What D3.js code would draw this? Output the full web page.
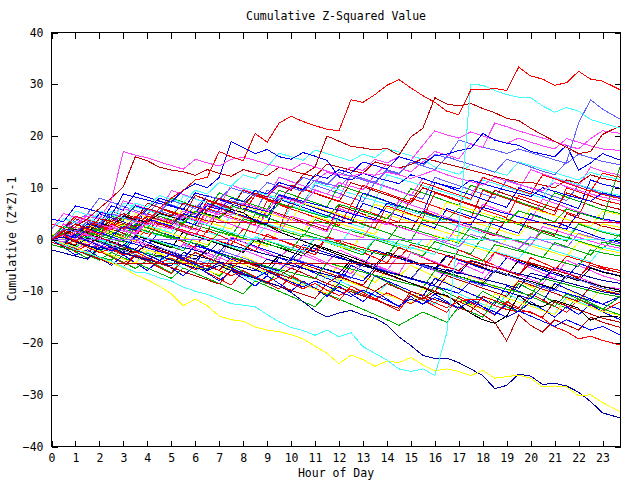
<!DOCTYPE html>
<html><head><meta charset="utf-8">
<script src="https://cdn.jsdelivr.net/npm/d3@7"></script>
<style>
body{margin:0;background:#fff}
svg text{font-family:"DejaVu Sans Mono","Liberation Mono",monospace;font-size:11.5px;fill:#000}
</style>
</head><body>
<svg id="chart" width="640" height="480"></svg>
<script>
// ---------- DATA ----------
const hours = [...d3.range(0, 23.5, 0.5), 23.75];
const xTicks = d3.range(0, 24, 1);
const yTicks = [-40, -30, -20, -10, 0, 10, 20, 30, 40];
const titleText = "Cumulative Z-Squared Value";
const xLabel = "Hour of Day";
const yLabel = "Cumulative (Z*Z)-1";

const d01 = [0,-0.8,-1.6,0.5,-0.3,-1.1,-1.9,1, 0.2,-0.6,-1.4,-2.2,0.8,0,-0.8,-1.6, -2.4,0.5,-0.3,-1.1,-1.9,-2.7,0.2,-0.6, -1.4,-2.2,-3,0,-0.8,-1.6,-2.4,-3.2, -0.4,-1.2,-2,-2.8,0.5,-0.3,-1.1,-1.9, -2.7,-3.5,-0.6,-1.4,-2.2,-3,-0.5,-1.3];
const d02 = [0,1.2,0.5,-0.3,2,1.2,0.4,-0.4, -1.2,1.5,0.7,-0.1,-0.9,-1.7,-2.5,0.3, -0.5,-1.3,-2.1,-2.9,-3.7,-1,-1.8,-2.6, -3.4,-4.2,-5,-2,-2.8,-3.6,-4.4,-5.2, -6,-3.2,-4,-4.8,-5.6,-6.4,-3.5,-4.3, -5.1,-5.9,-6.7,-7.5,-4.6,-5.4,-6.2,-7];
const d03 = [0,2.5,1.8,1,4,3.2,2.4,1.6, 5,4.2,3.4,2.6,1.8,6,5.2,4.4, 3.6,2.8,7.5,6.7,5.9,5.1,4.3,3.5, 2.7,6.5,5.7,4.9,4.1,3.3,8,7.2, 6.4,5.6,4.8,4,9.5,8.7,7.9,7.1, 6.3,5.5,4.7,10,9.2,8.4,7.6,6.8];
const d04 = [0,-1,-2,-0.5,-1.5,-2.5,1,0, -1,-2,-3,-1,-2,-3,-4,0.5, -0.5,-1.5,-2.5,-3.5,-1.5,-2.5,-3.5,-4.5, -2,-3,-4,-5,-6,-3,-4,-5, -6,-7,-4.5,-5.5,-6.5,-2.5,-3.5,-4.5, -5.5,-6.5,-7.5,-4,-5,-6,-7,-8];
const d05 = [0,-0.7,1.5,0.8,0.1,-0.6,2.8,2.1, 1.4,0.7,3.5,2.8,2.1,1.4,0.7,5, 4.3,3.6,2.9,2.2,6.5,5.8,5.1,4.4, 3.7,3,2.3,7.5,6.8,6.1,5.4,4.7, 4,3.3,2.6,1.9,1.2,4.5,3.8,3.1, 2.4,1.7,1,0.3,3,2.3,1.6,0.9];
const d06 = [0,-1.1,-0.2,-1.3,-2.4,-1,-2.1,-3.2, -1.5,-2.6,-3.7,-4.8,-2.5,-3.6,-4.7,-5.8, -3.2,-4.3,-5.4,-6.5,-4,-5.1,-6.2,-7.3, -5,-6.1,-7.2,-8.3,-6,-7.1,-5,-6.1, -7.2,-8.3,-9.4,-7,-8.1,-9.2,-10.3,-8, -9.1,-10.2,-8.5,-9.6,-10.7,-11.8,-9.5,-10.6];
const d07 = [0,1.5,0.7,-0.1,2.8,2,1.2,0.4, 3.8,3,2.2,1.4,0.6,4.5,3.7,2.9, 2.1,1.3,5.8,5,4.2,3.4,2.6,1.8, 6.5,5.7,4.9,4.1,3.3,2.5,1.7,5.5, 4.7,3.9,3.1,2.3,1.5,0.7,4,3.2, 2.4,1.6,0.8,5,4.2,3.4,2.6,1.8];
const d08 = [0,-1.2,-2.4,-3.6,-2,-3.2,-4.4,-5.6, -4,-5.2,-6.4,-3.5,-4.7,-5.9,-7.1,-5, -6.2,-7.4,-8.6,-6,-7.2,-8.4,-9.6,-10.8, -8.5,-9.7,-10.9,-7,-8.2,-9.4,-10.6,-11.8, -9,-10.2,-11.4,-12.6,-10,-11.2,-12.4,-8.5, -9.7,-10.9,-12.1,-13.3,-11,-12.2,-13.4,-14.6];
const d09 = [0,0.5,-0.3,1.2,0.4,-0.4,-1.2,0.8, 0,-0.8,-1.6,1.5,0.7,-0.1,-0.9,-1.7, -2.5,0,-0.8,-1.6,-2.4,-3.2,-1,-1.8, -2.6,-3.4,-4.2,-5,-2.5,-3.3,-4.1,-4.9, -5.7,-3,-3.8,-4.6,-5.4,-6.2,-7,-4, -4.8,-5.6,-6.4,-7.2,-8,-5.5,-6.3,-7.1];
const d10 = [0,2,3.5,5,8,7.2,6.4,5.6, 4.8,7.5,6.7,5.9,5.1,8.5,7.7,6.9, 6.1,5.3,9.5,8.7,7.9,7.1,10.5,9.7, 8.9,8.1,7.3,11,10.2,9.4,8.6,7.8, 12,11.2,10.4,9.6,8.8,8,11.5,10.7, 9.9,9.1,8.3,7.5,10.5,9.7,8.9,8.1];
const d11 = [0,-0.6,-1.2,0.5,-0.1,-0.7,-1.3,-1.9, 0.3,-0.3,-0.9,-1.5,-2.1,-2.7,-0.5,-1.1, -1.7,-2.3,-2.9,-3.5,-4.1,-1.8,-2.4,-3, -3.6,-4.2,-4.8,-5.4,-3,-3.6,-4.2,-4.8, -5.4,-6,-6.6,-4.2,-4.8,-5.4,-6,-6.6, -7.2,-7.8,-5.5,-6.1,-6.7,-7.3,-7.9,-8.5];
const d12 = [0,0.8,1.6,0.6,2.5,1.5,0.5,-0.5, 2.5,1.5,0.5,-0.5,-1.5,1.8,0.8,-0.2, -1.2,-2.2,1,0,-1,-2,-3,0.5, -0.5,-1.5,-2.5,-3.5,-4.5,-1.5,-2.5,-3.5, -4.5,-5.5,-2,-3,-4,-5,-6,-7, -3.5,-4.5,-5.5,-6.5,-7.5,-4.5,-5.5,-6.5];
const d13 = [0,1.5,3,2.2,1.4,4.5,3.7,6.5, 5.7,4.9,8,7.2,6.4,5.6,9,8.2, 7.4,6.6,5.8,9.5,8.7,7.9,7.1,6.3, 10.5,9.7,8.9,8.1,7.3,6.5,9.8,9, 8.2,7.4,6.6,10.5,9.7,8.9,8.1,7.3, 6.5,5.7,9,8.2,7.4,6.6,5.8,5];
const d14 = [0,-1,1.5,0.5,-0.5,-1.5,-2.5,0.5, -0.5,-1.5,-2.5,-3.5,-4.5,-1.8,-2.8,-3.8, -4.8,-5.8,-6.8,-3.5,-4.5,-5.5,-6.5,-7.5, -8.5,-5,-6,-7,-8,-9,-10,-11, -7.5,-8.5,-9.5,-10.5,-11.5,-12.5,-9,-10, -11,-12,-8.5,-9.5,-10.5,-11.5,-12.5,-13.5];
const d15 = [0,3,2.2,5,4.2,3.4,7.5,6.7, 5.9,5.1,9.5,8.7,7.9,7.1,6.3,10.5, 9.7,8.9,8.1,12,11.2,10.4,9.6,8.8, 8,12.5,11.7,10.9,10.1,9.3,8.5,11.8, 11,10.2,9.4,8.6,12,11.2,10.4,9.6, 13.5,12.7,11.9,11.1,10.3,14,13.2,12.4];
const d16 = [0,-1,-2,-3,-1.5,-2.5,-3.5,-4.5, -2.5,-3.5,-4.5,-5.5,-6.5,-4,-5,-6, -7,-8,-5.5,-6.5,-7.5,-8.5,-9.5,-7, -8,-9,-10,-11,-8.5,-9.5,-10.5,-11.5, -12.5,-9.5,-10.5,-11.5,-12.5,-13.5,-10.5,-11.5, -12.5,-13.5,-14.5,-11,-12,-13,-14,-12];
const d17 = [0,1.5,0.8,2.8,2.1,1.4,4,3.3, 2.6,1.9,5.5,4.8,4.1,3.4,2.7,2, 5,4.3,3.6,2.9,2.2,1.5,4.5,3.8, 3.1,2.4,1.7,1,4.8,4.1,3.4,2.7, 2,1.3,0.6,3.5,2.8,2.1,1.4,0.7, 3.8,3.1,2.4,1.7,1,0.3,3,2.3];
const d18 = [0,-0.8,-1.6,-2.4,-1,-1.8,-2.6,-3.4, -4.2,-2,-2.8,-3.6,-4.4,-5.2,-6,-3.5, -4.3,-5.1,-5.9,-6.7,-7.5,-4.8,-5.6,-6.4, -7.2,-8,-8.8,-6,-6.8,-7.6,-8.4,-9.2, -10,-7,-7.8,-8.6,-9.4,-10.2,-11,-8, -8.8,-9.6,-10.4,-11.2,-12,-9,-9.8,-10.6];
const d19 = [0,0.5,2.5,1.8,1.1,0.4,3,2.3, 1.6,0.9,0.2,3.5,2.8,2.1,1.4,0.7, 4,3.3,2.6,1.9,1.2,0.5,3.8,3.1, 2.4,1.7,1,0.3,-0.4,2.8,2.1,1.4, 0.7,0,-0.7,2.5,1.8,1.1,0.4,-0.3, -1,1.8,1.1,0.4,-0.3,-1,-1.7,1];
const d20 = [0,-0.5,-1,1.5,0.8,3.5,2.7,1.9, 1.1,4.5,3.7,2.9,2.1,1.3,6,5.2, 4.4,3.6,2.8,2,7.8,7,6.2,5.4, 4.6,3.8,3,2.2,6.5,5.7,4.9,4.1, 9,8.2,7.4,6.6,5.8,5,4.2,8.5, 7.7,6.9,6.1,5.3,4.5,9.5,8.7,7.9];
const d21 = [0,2,4.5,3.7,2.9,6.5,5.7,9, 8.2,7.4,6.6,5.8,5,8.5,7.7,6.9, 6.1,5.3,4.5,7.8,7,6.2,5.4,4.6, 3.8,3,7,6.2,5.4,4.6,3.8,3, 2.2,6,5.2,4.4,3.6,2.8,2,1.2, 5,4.2,3.4,2.6,1.8,1,0.2,-0.6];
const d22 = [0,-0.9,0.8,-0.1,-1,-1.9,0.5,-0.4, -1.3,-2.2,-3.1,-0.8,-1.7,-2.6,-3.5,-4.4, -2,-2.9,-3.8,-4.7,-5.6,-3,-3.9,-4.8, -5.7,-6.6,-4,-4.9,-5.8,-6.7,-2.5,-3.4, -4.3,-5.2,-6.1,-7,-7.9,-5,-5.9,-6.8, -7.7,-8.6,-5.5,-6.4,-7.3,-8.2,-9.1,-9.5];
const d23 = [0,2,5.5,4.8,4.1,3.4,7,6.3, 5.6,4.9,4.2,8.5,7.8,7.1,6.4,5.7, 10,9.3,8.6,7.9,7.2,6.5,11,10.3, 9.6,8.9,8.2,7.5,12.5,11.8,11.1,10.4, 9.7,9,8.3,7.6,11.5,10.8,10.1,9.4, 8.7,8,12,11.3,10.6,9.9,9.2,8.5];
const d24 = [0,0.8,0.1,-0.6,1.8,1.1,0.4,-0.3, 2.5,1.8,1.1,0.4,-0.3,-1,1.5,0.8, 0.1,-0.6,-1.3,2.2,1.5,0.8,0.1,-0.6, -1.3,-2,1.2,0.5,-0.2,-0.9,-1.6,-2.3, 0.8,0.1,-0.6,-1.3,-2,-2.7,0.2,-0.5, -1.2,-1.9,-2.6,-3.3,-0.5,-1.2,-1.9,-2.6];
const d25 = [0,-0.5,-1.2,0.2,-0.5,-1.2,-1.9,-2.6, -1,-1.7,-2.4,-3.1,-3.8,-2,-2.7,-3.4, -4.1,-4.8,-5.5,-3,-3.7,-4.4,-5.1,-5.8, -6.5,-4,-4.7,-5.4,-6.1,-6.8,-7.5,-5, -5.7,-6.4,-7.1,-7.8,-8.5,-6,-6.7,-7.4, -8.1,-8.8,-9.5,-7,-7.7,-8.4,-9.1,-9.8];
const d26 = [0,-0.8,-1.6,-2.4,-0.5,-1.3,-2.1,-2.9, -3.7,-1.5,-2.3,-3.1,-3.9,-4.7,-2,-2.8, -3.6,-4.4,-5.2,-6,-3.5,-4.3,-5.1,-5.9, -6.7,-7.5,-4.5,-5.3,-6.1,-6.9,-7.7,-5, -5.8,-6.6,-7.4,-8.2,-9,-6,-6.8,-7.6, -8.4,-9.2,-10,-7,-7.8,-8.6,-9.4,-10.2];
const d27 = [0,1.2,0.4,2.5,1.7,0.9,0.1,3, 2.2,1.4,0.6,-0.2,3.5,2.7,1.9,1.1, 0.3,5,4.2,3.4,2.6,1.8,1,0.2, 4.5,3.7,2.9,2.1,1.3,0.5,-0.3,3.8, 3,2.2,1.4,0.6,-0.2,4.5,3.7,2.9, 2.1,1.3,0.5,-0.3,3,2.2,1.4,0.6];
const d28 = [0,-1.2,-2.4,-1,-2.2,-3.4,-4.6,-3, -4.2,-5.4,-6.6,-4,-5.2,-6.4,-7.6,-8.8, -6,-7.2,-8.4,-9.6,-7,-8.2,-9.4,-10.6, -11.8,-9,-10.2,-11.4,-12.6,-13.8,-10.5,-11.7, -12.9,-14.1,-11,-12.2,-13.4,-14.6,-12,-13.2, -10.5,-11.7,-12.9,-14.1,-11.5,-12.7,-13.9,-12];
const d29 = [0,1,3,2.2,5,4.2,3.4,2.6, 6,5.2,4.4,3.6,2.8,7,6.2,5.4, 4.6,3.8,3,8.5,7.7,6.9,6.1,5.3, 4.5,3.7,9,8.2,7.4,6.6,5.8,5, 11,10.2,9.4,8.6,7.8,7,6.2,10, 9.2,8.4,7.6,6.8,6,11.5,10.7,9.9];
const d30 = [0,0.5,1.8,1,0.2,2.8,2,1.2, 4,3.2,2.4,1.6,0.8,4.5,3.7,2.9, 2.1,1.3,5.5,4.7,3.9,3.1,2.3,1.5, 6,5.2,4.4,3.6,2.8,7.5,6.7,5.9, 5.1,4.3,3.5,2.7,6.8,6,5.2,4.4, 3.6,7.8,7,6.2,5.4,4.6,3.8,3];
const d31 = [0,1,2.5,1.8,4,3.3,2.6,5, 4.3,3.6,2.9,6,5.3,4.6,3.9,3.2, 6.5,5.8,5.1,4.4,3.7,7,6.3,5.6, 4.9,4.2,3.5,6.8,6.1,5.4,4.7,4, 3.3,7.2,6.5,5.8,5.1,4.4,3.7,3, 6,5.3,4.6,3.9,3.2,2.5,5.5,4.8];
const d32 = [0,-1,-2,-3,-4,-2.5,-3.5,-4.5, -5.5,-6.5,-7.5,-5.5,-6.5,-7.5,-8.5,-9.5, -10.5,-8,-9,-10,-11,-12,-13,-10.5, -11.5,-12.5,-13.5,-14.5,-15.5,-16.6,-15.3,-14, -15,-16,-13,-14,-15,-12,-13,-14, -11,-12,-13,-10.5,-11.5,-12.5,-13.5,-11];
const d33 = [0,2,4,3.2,2.4,5.5,4.7,3.9, 7,6.2,5.4,4.6,8.5,7.7,6.9,6.1, 9.5,8.7,7.9,7.1,10.5,9.7,8.9,8.1, 7.3,11,10.2,9.4,8.6,7.8,7,10, 9.2,8.4,7.6,6.8,6,9.5,8.7,7.9, 7.1,6.3,5.5,9,8.2,7.4,6.6,5.8];
const d34 = [0,-1.5,-3,-2,-3.5,-5,-3,-4.5, -6,-4,-5.5,-7,-5,-6.5,-8,-6, -7.5,-9,-7,-8.5,-10,-8,-9.5,-11, -9,-10.5,-12,-10,-11.5,-13,-11,-12.5, -10.5,-12,-13.5,-11.5,-13,-14.5,-12.5,-14, -12,-13.5,-15,-13,-14.5,-12.5,-14,-15.5];
const d35 = [0,1.8,1,3.5,2.7,1.9,4.5,3.7, 2.9,6,5.2,4.4,3.6,7.5,6.7,5.9, 5.1,8.5,7.7,6.9,6.1,9.8,9,8.2, 7.4,6.6,10.5,9.7,8.9,8.1,7.3,11, 10.2,9.4,8.6,7.8,12,11.2,10.4,9.6, 8.8,12.5,11.7,10.9,10.1,9.3,12.8,12];
const d36 = [0,1,2.5,4,3.3,5.5,4.8,7, 6.3,8.5,7.8,7.1,9.5,8.8,11,10.3, 12.5,11.8,14,16.7,16,15.3,17.3,16.6, 15.9,15.2,16.5,15.8,17.6,16.9,16.2,15.5, 14,13.3,12.6,14.5,13.8,13.1,12.4,15, 14.3,13.6,12.9,12.2,11.5,13,12.3,11.6];
const d37 = [0,-0.5,1.5,0.8,3,2.3,1.6,4, 3.3,5.5,4.8,4.1,6.5,5.8,5.1,7.5, 6.8,9,8.3,7.6,10,9.3,11.5,10.8, 10.1,12.5,11.8,11.1,13.5,12.8,15,14.3, 16.5,15.8,19.2,18.5,17.8,17.3,16.6,17.5, 16.8,16.1,15.4,14.7,16.5,15.8,15.1,14.4];
const e01 = [1,0.3,-0.4,-1.1,-1.8,0.5,-0.2,-0.9, -1.6,-2.3,-3,-3.7,-1.2,-1.9,-2.6,-3.3, -4,-4.7,-5.4,-6.1,-3.8,-4.5,-5.2,-5.9, -6.6,-7.3,-8,-5.5,-6.2,-6.9,-7.6,-8.3, -9,-9.7,-10.4,-8,-8.7,-9.4,-10.1,-10.8, -11.5,-9,-9.7,-10.4,-11.1,-11.8,-12.5,-11];
const e02 = [3,2.3,4.5,3.8,3.1,2.4,1.7,1, 0.3,3.2,2.5,1.8,1.1,0.4,-0.3,-1, 2,1.3,0.6,-0.1,-0.8,-1.5,-2.2,0.5, -0.2,-0.9,-1.6,-2.3,-3,-3.7,-1,-1.7, -2.4,-3.1,-3.8,-4.5,-5.2,-2.5,-3.2,-3.9, -4.6,-5.3,-6,-3.2,-3.9,-4.6,-5.3,-6];
const e03 = [-1,-1.6,-2.2,-2.8,-3.4,-4,-1.5,-2.1, -2.7,-3.3,-3.9,-4.5,-5.1,-5.7,-2.8,-3.4, -4,-4.6,-5.2,-5.8,-6.4,-7,-7.6,-4.5, -5.1,-5.7,-6.3,-6.9,-7.5,-8.1,-8.7,-9.3, -6,-6.6,-7.2,-7.8,-8.4,-9,-9.6,-10.2, -10.8,-7.5,-8.1,-8.7,-9.3,-9.9,-10.5,-11.1];
const e04 = [2,4,3.3,2.6,5.5,4.8,4.1,3.4, 2.7,2,1.3,4.2,3.5,2.8,2.1,1.4, 0.7,0,3,2.3,1.6,0.9,0.2,-0.5, -1.2,2,1.3,0.6,-0.1,-0.8,-1.5,-2.2, -2.9,0.5,-0.2,-0.9,-1.6,-2.3,-3,-3.7, -0.8,-1.5,-2.2,-2.9,-3.6,-4.3,-1.5,-2.2];
const e05 = [1,0.2,-0.6,-1.4,-2.2,-3,-3.8,-4.6, -2,-2.8,-3.6,-4.4,-5.2,-6,-6.8,-4, -4.8,-5.6,-6.4,-7.2,-8,-8.8,-9.6,-10.4, -7.5,-8.3,-9.1,-9.9,-10.7,-11.5,-12.3,-9.5, -10.3,-11.1,-11.9,-12.7,-13.5,-10.5,-11.3,-12.1, -12.9,-13.7,-14.5,-11.5,-12.3,-13.1,-13.9,-14.7];
const e06 = [2,5,4.3,3.6,2.9,2.2,6,5.3, 4.6,3.9,3.2,2.5,1.8,5.5,4.8,4.1, 3.4,2.7,2,1.3,4.5,3.8,3.1,2.4, 1.7,1,0.3,3.8,3.1,2.4,1.7,1, 0.3,-0.4,3,2.3,1.6,0.9,0.2,-0.5, -1.2,2.5,1.8,1.1,0.4,-0.3,-1,-1.7];
const e07 = [-0.5,-1.3,-2.1,-2.9,-3.7,-4.5,-5.3,-3, -3.8,-4.6,-5.4,-6.2,-7,-7.8,-8.6,-5.8, -6.6,-7.4,-8.2,-9,-9.8,-10.6,-11.4,-8.5, -9.3,-10.1,-10.9,-11.7,-12.5,-13.3,-10,-10.8, -11.6,-12.4,-13.2,-14,-11,-11.8,-12.6,-13.4, -14.2,-15,-12,-12.8,-13.6,-14.4,-15.2,-16];
const e08 = [4,3.4,6.5,5.9,5.3,4.7,8.8,8.2, 7.6,7,6.4,5.8,9,8.4,7.8,7.2, 6.6,6,5.4,8.6,8,7.4,6.8,6.2, 5.6,5,4.4,3.8,7,6.4,5.8,5.2, 4.6,4,3.4,2.8,6.2,5.6,5,4.4, 3.8,3.2,2.6,2,5.2,4.6,4,3.4];
const e09 = [-2,-2.6,-3.2,-3.8,-1.5,-2.1,-2.7,-3.3, -3.9,-4.5,-5.1,-2.5,-3.1,-3.7,-4.3,-4.9, -5.5,-6.1,-3.8,-4.4,-5,-5.6,-6.2,-6.8, -7.4,-4.5,-5.1,-5.7,-6.3,-6.9,-7.5,-8.1, -8.7,-5.8,-6.4,-7,-7.6,-8.2,-8.8,-9.4, -6.5,-7.1,-7.7,-8.3,-8.9,-9.5,-10.1,-10.7];
const e10 = [0.5,2.5,1.9,1.3,0.7,0.1,-0.5,2.2, 1.6,1,0.4,-0.2,-0.8,-1.4,1.5,0.9, 0.3,-0.3,-0.9,-1.5,-2.1,1,0.4,-0.2, -0.8,-1.4,-2,-2.6,-3.2,0,-0.6,-1.2, -1.8,-2.4,-3,-3.6,-4.2,-1,-1.6,-2.2, -2.8,-3.4,-4,-4.6,-5.2,-2,-2.6,-3.2];
const flatCyan = [0,-0.7,-1.4,0.6,-0.1,-0.8,-1.5,1, 0.3,-0.4,-1.1,-1.8,0.8,0.1,-0.6,-1.3, -2,0.5,-0.2,-0.9,-1.6,-2.3,0.3,-0.4, -1.1,-1.8,-2.5,0.2,-0.5,-1.2,-1.9,0, 0,0,0,0,0,0,0,0, 0,0,0,0,0,0,0,0];
const flatLavender = [0,0,0,0,0,0,0,0, 0,0,0,0,0,0,0,0, 0,0,0,0,0,0,0,0, 0,0,0,0,0,0,0,0, 0,-0.7,-1.4,1,0.3,-0.4,-1.1,-1.8, 0.5,-0.2,-0.9,-1.6,1.2,0.5,-0.2,-0.9];
const flatHigh = [0,1.5,0.8,2.6,1.9,3.8,3.1,2.4, 4.5,3.8,3.1,5,4.3,3.6,3.3,3.3, 3.3,3.3,3.3,3.3,3.3,3.3,3.3,3.3, 3.3,3.3,3.3,3.3,3.3,3.3,3.3,3.3, 3.3,3.3,3.3,3.3,3.3,3.3,3.3,3.3, 3.3,3.3,3.3,3.3,3.3,3.3,3.3,3.3];
const flatLow = [0,-1,-1.8,-2.9,-3.8,-4.6,-4.6,-4.6, -4.6,-4.6,-4.6,-4.6,-4.6,-4.6,-4.6,-4.6, -4.6,-4.6,-4.6,-4.6,-4.6,-4.6,-4.6,-4.6, -4.6,-4.6,-4.6,-4.6,-4.6,-4.6,-4.6,-4.6, -4.6,-5.3,-6,-4,-4.7,-5.4,-6.1,-6.8, -4.5,-5.2,-5.9,-6.6,-7.3,-5,-5.7,-6.4];
const lowRed = [0,-1,-0.2,-1.5,-2.5,-1.8,-3,-2.3, -3.5,-4.5,-3.6,-4.8,-5.8,-4.9,-6,-7, -6,-7.2,-8.2,-7.3,-8.5,-9.5,-8.5,-9.8, -10.8,-9.6,-10.6,-11.6,-10.3,-11.4,-12.4,-11.2, -12.2,-13.2,-12,-11.5,-11.7,-12.8,-13.5,-14, -14,-15.2,-16.9,-17.8,-19.2,-18.7,-19.5,-20.4];
const lowDarkRed = [0,0.8,-0.2,-1.2,0.5,-0.5,-1.5,-2.5, -1,-2,-3,-4,-2.5,-3.5,-4.5,-5.5, -4,-5,-6,-7,-5.5,-6.5,-7.5,-8.5, -7,-8,-9,-10,-8.5,-9.5,-10.5,-11.5, -10,-11,-12,-13,-14.5,-16,-19.6,-14.6, -16.6,-17.9,-15.5,-16.5,-17.5,-15,-16,-17];
const lowBlue = [0,-0.5,0.8,-0.2,-1.2,-2.2,-1,-2, -3,-4,-2.8,-3.8,-4.8,-5.8,-4.5,-5.5, -6.5,-7.5,-6.2,-7.2,-8.2,-9.2,-8,-9, -10,-11,-9.8,-10.8,-11.8,-12.8,-11.5,-12.5, -11.2,-12.2,-13.2,-12,-13,-14,-15,-13.8, -14.8,-15.8,-16.8,-15.5,-16.5,-17.5,-16.8,-18.5];
const diagBlack = [0,1,2,1.4,3.2,2.6,4.5,3.9, 3.3,5,4.4,3.8,5.5,4.9,4.3,5.8, 5.2,3.5,2.8,1.5,0.6,-0.3,-1.2,-2.1, -3,-3.9,-4.8,-5.7,-6.6,-7.5,-8.4,-9.3, -10.4,-10.8,-12.5,-14.3,-15.5,-16.2,-14.8,-10.8, -12.5,-13,-11.7,-12.5,-13.3,-15.6,-14.8,-15];
const endGreen = [0,-0.8,1,0.3,2.2,1.5,0.8,3, 2.3,4.5,3.8,3.1,5.5,4.8,4.1,6.5, 5.8,5.1,4.4,7,6.3,5.6,4.9,4.2, 6.8,6.1,5.4,4.7,4,6.5,5.8,5.1, 4.4,3.7,6,5.3,4.6,3.9,3.2,5.5, 4.8,4.1,3.4,5.9,5.2,4.5,3.8,14.3];
const midDarkRed = [0,1,2.5,4,6,8,10.2,16, 15.2,14,13.4,13.1,12.4,13.5,12.8,12.2, 13.5,12.9,12.3,14,13.3,12.7,12.1,14.6, 14,13.4,12.8,15,14.4,13.8,14.5,15.7, 15.2,14.6,14,13.4,12.8,12.2,11.6,11.1, 11.1,10.5,10,11.5,10.9,12.5,11.8,11.2];
const upMagentaA = [0,-0.5,1.5,0.8,0.2,2.4,1.7,1, 3.3,2.6,2,4.5,3.8,3.1,5.5,4.8, 7,6.3,5.6,8.3,7.6,6.9,9.5,8.8, 11,10.3,9.6,12.5,14.5,13.8,13.1,15, 17,16.3,15.6,18.5,17.8,22.5,21.8,21, 20.3,19.6,18.9,18.2,17.5,19.5,21,20.5];
const upMagentaB = [0,0.8,0.2,1.8,1.1,2.8,2,3.5, 2.8,4.2,3.5,5.5,4.8,6.8,6,8, 7.3,9.5,8.8,10.5,9.8,12,11.3,13, 12.3,14,13.3,15.5,14.8,16,15.3,18.2, 21,20.2,19.6,20.8,20,19.3,18.6,19.6, 18.8,18.1,17.5,19.5,18.8,18.1,17.5,17.2];
const upBlueB = [0,1,0.3,2,1.3,0.6,2.5,1.8, 4,3.3,2.6,5,4.3,6.5,5.8,8, 7.3,9.5,8.8,11,10.3,9.6,12.5,11.8, 13.5,12.8,15,14.3,13.6,16,15.3,14.6, 16.2,16.5,17.2,17.6,20.5,19.2,18.6,18.2, 17,16.5,16,18.2,13.4,14.8,16.6,15.3];
const upBlueA = [0,-1,1,3,2.3,5,4.2,6.5, 5.8,8,7.2,9.5,10.8,10,12,18.9, 17.8,16.6,17.4,16,15.5,16.8,16.1,15.3, 12.1,11.5,12.8,12,11.4,10.8,12.5,11.8, 11,10.4,9.8,11.5,10.8,10.1,9.5,8.9, 8.3,10,9.3,8.6,8,7.4,9,8.2];
const peakMagenta = [0,1.5,3,4.5,4,7.5,17,16.3, 15.8,15,14.3,13.6,15.5,14.8,14.2,15.5, 15.9,15.3,14.6,14,13.4,14.8,14,13.2, 12.6,12.2,12.8,12.4,13,12.5,11.8,12.6, 13.4,12.5,11.8,11.2,10.5,12,11.3,10.6, 10,9.4,11,10.2,9.5,8.8,8.2,7.5];
const jumpLightBlue = [0,2,1.5,3.5,3,5,4.2,3.5, 6,5.3,7.5,6.8,6,8.5,7.8,10, 9.2,8.5,11,10.3,9.6,12,11.3,10.6, 13,12.2,11.5,10.8,13.3,12.6,15,14.2, 13.5,16,15.2,14.5,13.8,13,15.5,14.8, 14,13.2,12.5,15,22.5,27,25.2,23.2];
const topDarkRed = [0,1.5,3,2,4,3.5,5,4.2, 6,5.2,4.5,7,6.3,5.6,8,7.2, 6.5,9,8.2,10.5,9.5,12.5,14,20, 19,18,17.7,17.3,17.6,16.3,19.8,21.5, 27.4,26.2,25.8,26.3,25.3,24.5,23.4,23, 21.5,20.2,19,17.8,16.6,17,20.3,22];
const bottomNavy = [0,0.5,-0.5,-1.2,-2,-1.5,-2.5,-3.3, -4,-3,-4,-4.8,-5.5,-6,-5,-6, -6.8,-7.5,-8.3,-9,-10.2,-12,-13.8,-15, -14.2,-13.7,-14.6,-15.2,-16.5,-18.8,-20.5,-22.4, -23,-22.9,-23.8,-25,-26.3,-28.8,-28.2,-26, -26.4,-28,-27.8,-28.3,-29.5,-31.3,-33.5,-34.5];
const bottomYellow = [0,-0.8,-1.5,-2.5,-3.5,-4.5,-5.5,-6.8, -7.8,-9,-10.5,-12.8,-11.5,-12.8,-14.8,-15.5, -15.8,-16.9,-17.5,-17.8,-18.4,-19.2,-20.6,-22, -24,-22.3,-23.2,-24.5,-23.5,-23.8,-22.8,-24.2, -25.4,-25,-25.5,-26.3,-25.3,-26.8,-26.5,-26.2, -26.8,-28.5,-28.3,-28.5,-30.2,-30,-31.5,-33.3];
const jumpCyan = [0,-1,-2,-2.6,-3.5,-4.2,-5.3,-6.3, -6.5,-7.4,-8,-9.2,-10,-10.6,-11.5,-12.4, -12.7,-13,-14.5,-15.9,-17,-17.6,-18.5,-17.5, -18.8,-18,-20.7,-22,-23.3,-25,-25.5,-25, -26.3,-18,2,30,29.8,28.8,28,27.5, 27.4,25.8,24.6,25.5,24.8,23.2,22.5,21.5];
const topRed = [0,1,-0.5,2,1,3,2,4.5, 3.5,6,8,9.5,11.5,12,17,16, 15.2,20.5,18.8,22.5,23.8,22.8,22,21.3, 21,27,26.5,28,29.8,30.9,29.3,27.8, 26.5,24.8,24.1,28.9,28.9,29.2,28.8,33.3, 31.6,31,29.8,30.3,32.5,31,30.6,28.9];

const seriesValues = [d01,d02,d03,d04,d05,d06,d07,d08,d09,d10,d11,d12,d13,d14,d15,d16,d17,d18,d19,d20,
  d21,d22,d23,d24,d25,d26,d27,d28,d29,d30,d31,d32,d33,d34,d35,d36,d37,
  e01,e02,e03,e04,e05,e06,e07,e08,e09,e10,
  flatCyan,flatLavender,flatHigh,flatLow,lowRed,lowDarkRed,lowBlue,diagBlack,endGreen,midDarkRed,
  upMagentaA,upMagentaB,upBlueB,upBlueA,peakMagenta,jumpLightBlue,topDarkRed,bottomNavy,bottomYellow,jumpCyan,topRed];
const seriesColors = ["green","blue","red","magenta","cyan","yellow","darkred","green","black","lightblue",
  "navy","red","green","blue","magenta","cyan","yellow","darkred","green","red",
  "blue","magenta","cyan","yellow","black","lightblue","green","red","blue","magenta",
  "yellow","green","darkred","blue","red","cyan","lightblue",
  "blue","red","green","cyan","yellow","magenta","darkred","blue","navy","green",
  "cyan","lavender","darkred","darkred","red","darkred","blue","black","green","darkred",
  "magenta","magenta","blue","blue","magenta","lightblue","darkred","navy","yellow","cyan","red"];

// ---------- STYLE ----------
const palette = {red:"#ff0000", green:"#00b000", blue:"#0000ff", magenta:"#ff40ff", cyan:"#40ffff",
  darkred:"#c00000", yellow:"#ffff00", black:"#000000", navy:"#0000a0", lightblue:"#6060ff", lavender:"#a060ff"};

const svg = d3.select("#chart");
svg.append("rect").attr("width",640).attr("height",480).attr("fill","#fff");
const L=51.5, R=620.5, T=32.5, B=446.5;
const x = d3.scaleLinear().domain([0, 23.75]).range([L, R]);
const y = d3.scaleLinear().domain([-40, 40]).range([B, T]);

svg.append("clipPath").attr("id","plotclip").append("rect")
  .attr("x",L).attr("y",T).attr("width",R-L).attr("height",B-T);

const line = d3.line().x(d=>x(d[0])).y(d=>y(d[1]));
const g = svg.append("g").attr("clip-path","url(#plotclip)");
seriesValues.forEach((vals,k)=>{
  const pts = vals.map((v,i)=>[hours[i], v]).filter(p=>p[0]!==undefined);
  g.append("path").attr("d", line(pts)).attr("fill","none")
    .attr("stroke", palette[seriesColors[k]]).attr("stroke-width",1)
    .attr("shape-rendering","crispEdges");
});

// axes with inward ticks
const ax = (gen, tx, ty) => svg.append("g").attr("transform",`translate(${tx},${ty})`).call(gen)
  .call(s=>s.select(".domain").remove())
  .call(s=>s.selectAll("line").attr("stroke","#000").attr("shape-rendering","crispEdges"));
ax(d3.axisBottom(x).tickValues(xTicks).tickSize(-6).tickPadding(7).tickFormat(d3.format("d")), 0, B);
ax(d3.axisTop(x).tickValues(xTicks).tickSize(-6).tickFormat(""), 0, T);
ax(d3.axisLeft(y).tickValues(yTicks).tickSize(-6).tickPadding(8).tickFormat(d3.format("d")), L, 0);
ax(d3.axisRight(y).tickValues(yTicks).tickSize(-6).tickFormat(""), R, 0);
svg.selectAll(".tick text").attr("font-family",null).attr("font-size",null).attr("fill","#000");

svg.append("rect").attr("x",L).attr("y",T).attr("width",R-L).attr("height",B-T)
  .attr("fill","none").attr("stroke","#000").attr("shape-rendering","crispEdges");

svg.append("text").attr("x",(L+R)/2).attr("y",20).attr("text-anchor","middle").text(titleText);
svg.append("text").attr("x",(L+R)/2).attr("y",477).attr("text-anchor","middle").text(xLabel);
svg.append("text").attr("transform",`translate(12,239) rotate(-90)`).attr("dy","0.35em")
  .attr("text-anchor","middle").text(yLabel);
</script>
</body></html>
